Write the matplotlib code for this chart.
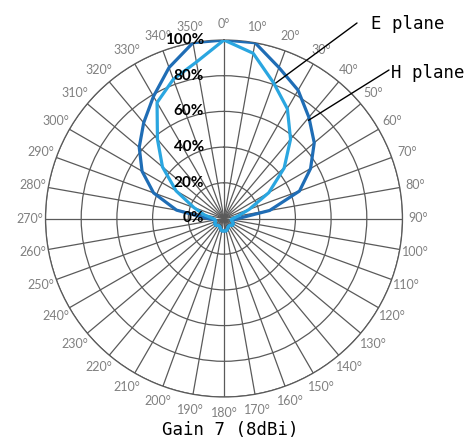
import numpy as np
import matplotlib
matplotlib.use("Agg")
import matplotlib.pyplot as plt

# angles in degrees, clockwise from top
angles = list(range(0, 360, 10))

# relative gain in %
h_plane = [100, 100, 90, 83, 74, 66, 56, 45, 26, 8, 5, 5,
           6, 6, 5, 5, 6, 7, 7, 7, 6, 5, 5, 6,
           6, 5, 5, 9, 27, 42, 53, 62, 70, 79, 90, 100]
e_plane = [100, 94, 81, 71, 58, 44, 29, 15, 8, 5, 4, 5,
           6, 6, 5, 5, 6, 7, 7, 7, 6, 5, 5, 6,
           6, 5, 5, 6, 11, 18, 31, 45, 58, 75, 83, 89]
rings = [20, 40, 60, 80, 100]
ring_labels = ["0%", "20%", "40%", "60%", "80%", "100%"]

title = "Gain 7 (8dBi)"

dark_blue = "#1f6db5"
light_blue = "#2aa6e0"
grid_col = "#5a5a5a"

W, H = 472, 442
fig = plt.figure(figsize=(W / 100, H / 100), dpi=100)
ax = fig.add_axes([45.5 / W, 45 / H, 357 / W, 357 / H], projection="polar")
ax.set_theta_zero_location("N")
ax.set_theta_direction(-1)

theta = np.deg2rad(angles + [angles[0]])
ax.plot(theta, h_plane + [h_plane[0]], color=dark_blue, lw=2.3, zorder=3)
ax.plot(theta, e_plane + [e_plane[0]], color=light_blue, lw=2.3, zorder=4)

ax.set_ylim(0, 100)
ax.set_yticks(rings)
ax.set_yticklabels([])
ax.set_thetagrids(angles, [f"{a}°" for a in angles],
                  fontsize=9, color="#808080", family="Lato")
ax.tick_params(axis="x", pad=1)
ax.grid(True, color=grid_col, lw=0.9)
ax.spines["polar"].set_color(grid_col)
ax.spines["polar"].set_linewidth(0.9)

for r, lab in zip([0] + rings, ring_labels):
    ax.annotate(lab, xy=(0, r), xytext=(-20, 0), textcoords="offset pixels",
                ha="right", va="center", fontsize=11, fontweight="bold",
                family="Lato", color="black", zorder=5)

# plane labels with leader lines
line_kw = dict(arrowstyle="-", color="black", lw=1, shrinkA=0, shrinkB=0)
ax.annotate("", xy=(np.deg2rad(20.8), 81), xycoords="data",
            xytext=(357 / W, 1 - 23 / H), textcoords="figure fraction",
            arrowprops=line_kw)
ax.annotate("", xy=(np.deg2rad(40.7), 72.5), xycoords="data",
            xytext=(389 / W, 1 - 70 / H), textcoords="figure fraction",
            arrowprops=line_kw)
fig.text(371 / W, 1 - 24 / H, "E plane", ha="left", va="center",
         fontsize=12.5, family="DejaVu Sans Mono")
fig.text(391 / W, 1 - 73 / H, "H plane", ha="left", va="center",
         fontsize=12.5, family="DejaVu Sans Mono")

fig.text(230 / W, 1 - 430 / H, title, ha="center", va="center",
         fontsize=12.5, family="DejaVu Sans Mono")

fig.savefig("out.png", dpi=100)
